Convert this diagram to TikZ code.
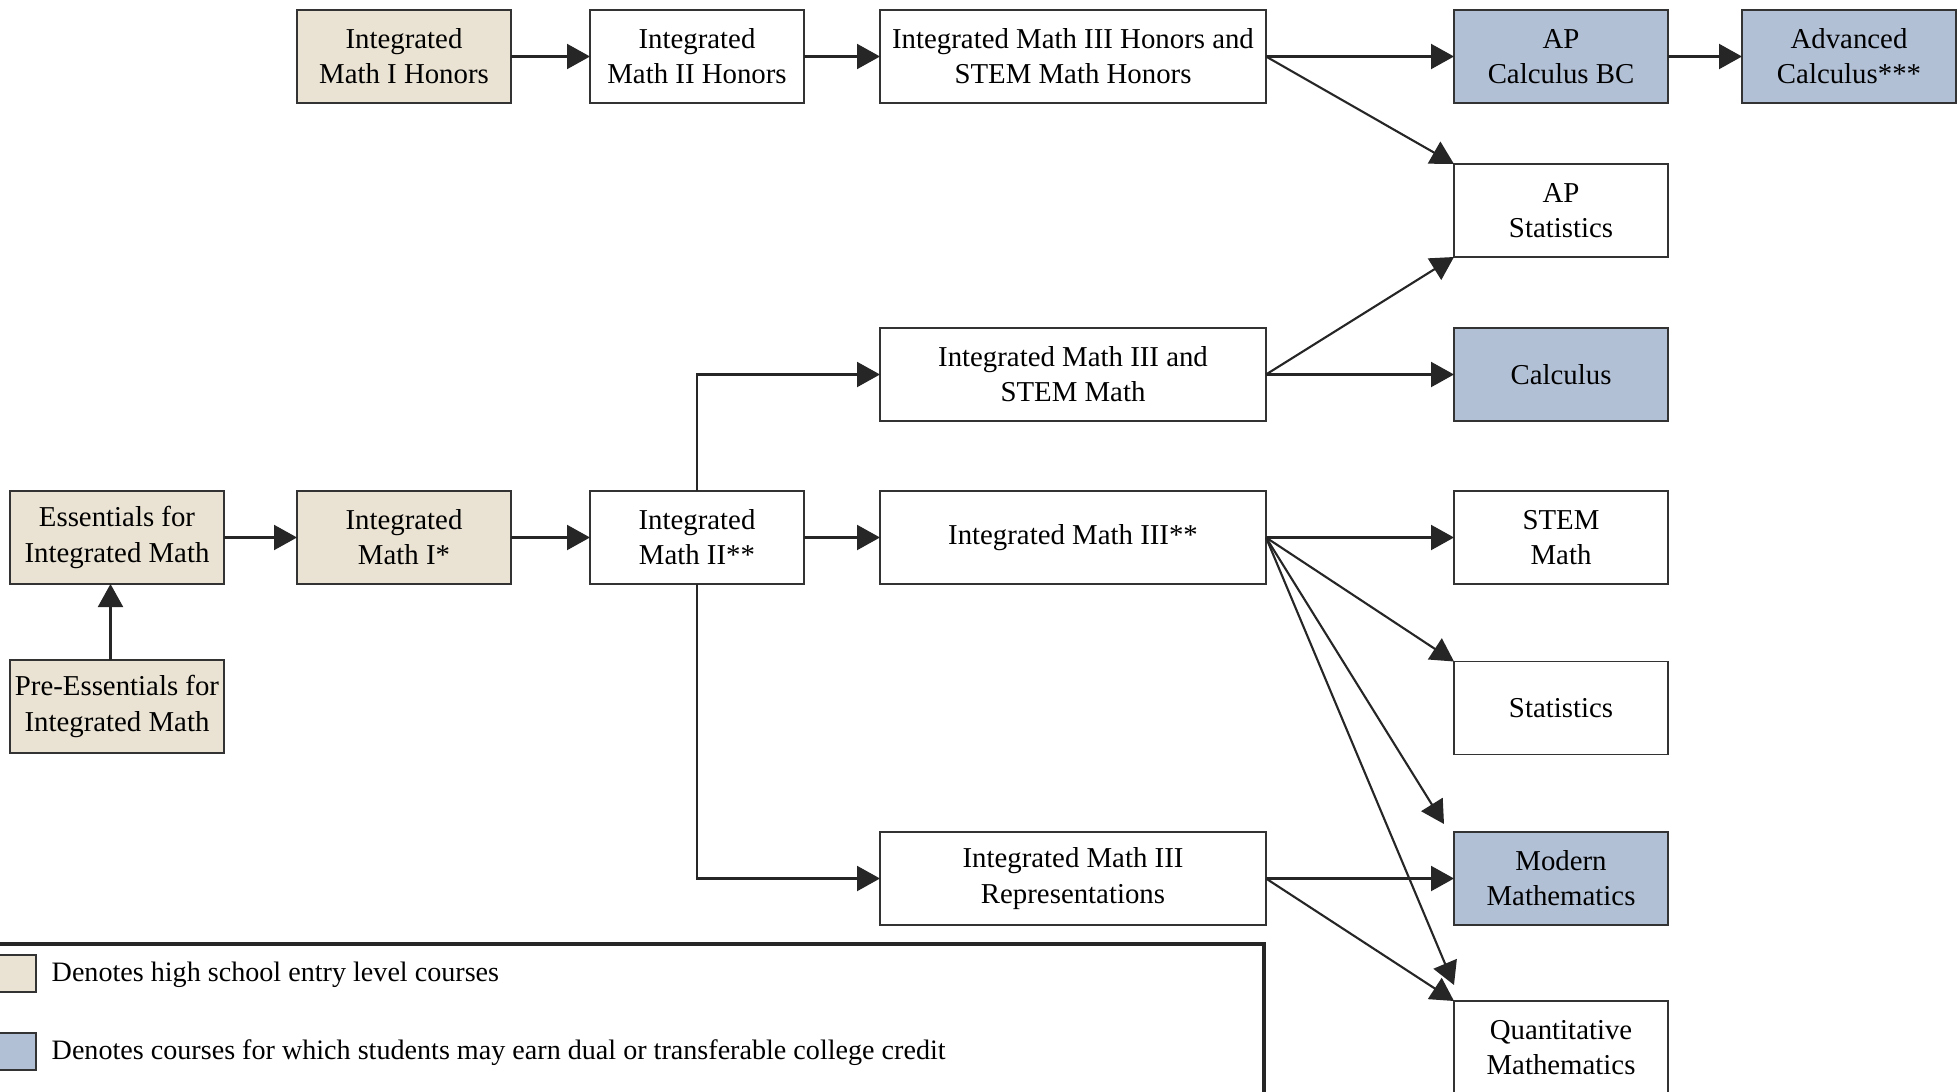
\documentclass[tikz,border=0pt]{standalone}
\usepackage{fontspec}
\setmainfont{Liberation Serif}
\usetikzlibrary{arrows.meta}
\usetikzlibrary{positioning}
\definecolor{entrytan}{RGB}{234,227,211}
\definecolor{creditblue}{RGB}{178,192,214}

\begin{document}
\begin{tikzpicture}[course/.style={rectangle,draw=black!80, fill=white, line width=0.5pt, inner sep=0pt, outer sep=0pt, minimum width=2.14cm, minimum height=0.93cm, align=center, font=\fontsize{8.2}{10}\selectfont},
    wide/.style={course, minimum width=3.86cm},
    entry/.style={course, fill=entrytan},
    credit/.style={course, fill=creditblue},
    link/.style={draw=black!85, line width=0.6pt, -{Triangle[length=0.23cm,width=0.25cm]}},
    legendkey/.style={rectangle, draw=black!80, line width=0.5pt, minimum width=0.46cm, minimum height=0.37cm, inner sep=0pt}
    ]
    \useasboundingbox (0,0) rectangle (19.6,-10.91);
    
    % honors track
    \node[entry] (imoneh) at (4.04,-0.565) {Integrated\\Math I Honors};
    \node[course, right=0.79cm of imoneh] (imtwoh) {Integrated\\Math II Honors};
    \node[wide, right=0.76cm of imtwoh] (imthreeh) {Integrated Math III Honors and\\STEM Math Honors};
    \node[credit, right=1.88cm of imthreeh] (apbc) {AP\\Calculus BC};
    \node[credit, right=0.74cm of apbc] (advcalc) {Advanced\\Calculus***};
    \node[course, below=0.61cm of apbc] (apstat) {AP\\Statistics};
    
    % main track
    \node[entry] (ess) at (1.17,-5.375) {Essentials for\\Integrated Math};
    \node[entry, below=0.76cm of ess] (preess) {Pre-Essentials for\\Integrated Math};
    \node[entry, right=0.73cm of ess] (imone) {Integrated\\Math I*};
    \node[course, right=0.79cm of imone] (imtwo) {Integrated\\Math II**};
    \node[wide, right=0.76cm of imtwo] (imthree) {Integrated Math III**};
    \node[wide, above=0.70cm of imthree] (imthreestem) {Integrated Math III and\\STEM Math};
    \node[credit, right=1.88cm of imthreestem] (calc) {Calculus};
    \node[course, right=1.88cm of imthree] (stem) {STEM\\Math};
    \node[course, below=0.775cm of stem] (stats) {Statistics};
    \node[credit, below=0.775cm of stats] (modern) {Modern\\Mathematics};
    \node[course, below=0.76cm of modern] (quant) {Quantitative\\Mathematics};
    \node[wide, left=1.88cm of modern] (imthreerep) {Integrated Math III\\Representations};
    
    \path[every edge/.style={link}]
    (imoneh) edge (imtwoh)
    (imtwoh) edge (imthreeh)
    (imthreeh) edge (apbc)
    (apbc) edge (advcalc)
    (imthreeh.east) edge (apstat.north west)
    (imthreestem.east) edge (apstat.south west)
    (imthreestem) edge (calc)
    ([xshift=-0.065cm]preess.north) edge ([xshift=-0.065cm]ess.south)
    (ess) edge (imone)
    (imone) edge (imtwo)
    (imtwo) edge (imthree)
    (imthree) edge (stem)
    (imthree.east) edge (stats.north west)
    (imthree.east) edge ([shift={(-0.1cm,0.08cm)}]modern.north west)
    (imthree.east) edge ([yshift=0.16cm]quant.north west)
    (imthreerep) edge (modern)
    (imthreerep.east) edge (quant.north west)
    ;
    % branches out of Integrated Math II
    \draw[link] (imtwo.north) |- (imthreestem.west);
    \draw[link] (imtwo.south) |- (imthreerep.west);
    
    % legend
    \draw[draw=black!85, line width=1pt] (-0.1,-9.44) rectangle (12.64,-11.2);
    \node[legendkey, fill=entrytan] (keyentry) at (0.13,-9.735) {};
    \node[legendkey, fill=creditblue] (keycredit) at (0.13,-10.515) {};
    \node[anchor=west, inner sep=0pt, font=\fontsize{8}{10}\selectfont] (keyentrytext) at (0.51,-9.75) {Denotes high school entry level courses};
    \node[anchor=west, inner sep=0pt, font=\fontsize{8}{10}\selectfont] (keycredittext) at (0.51,-10.53) {Denotes courses for which students may earn dual or transferable college credit};
\end{tikzpicture}
\end{document}
